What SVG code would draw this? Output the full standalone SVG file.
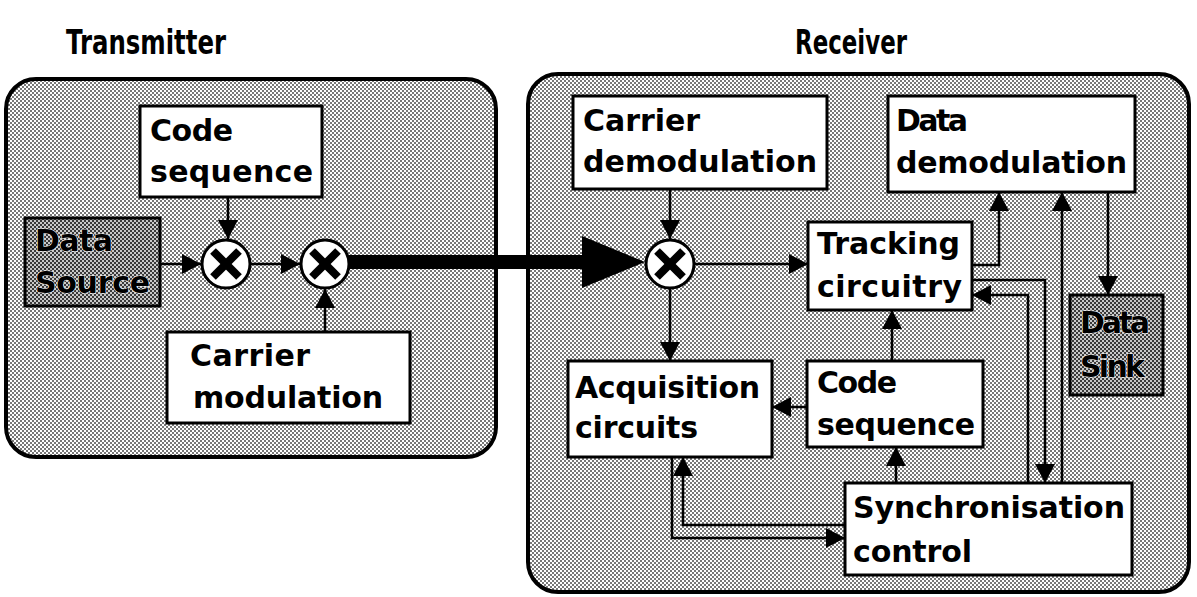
<svg xmlns="http://www.w3.org/2000/svg" width="1197" height="597" viewBox="0 0 1197 597">
  <defs>
    <pattern id="dither" width="4" height="4" patternUnits="userSpaceOnUse">
      <rect width="4" height="4" fill="#ffffff"/>
      <rect width="2" height="2" fill="#787878"/>
      <rect x="2" y="2" width="2" height="2" fill="#787878"/>
    </pattern>
    <pattern id="darkdither" width="4" height="4" patternUnits="userSpaceOnUse">
      <rect width="4" height="4" fill="#c8c8c8"/>
      <rect width="2" height="2" fill="#3a3a3a"/>
      <rect x="2" y="2" width="2" height="2" fill="#3a3a3a"/>
    </pattern>
    <marker id="ah" viewBox="0 0 19 20" refX="19" refY="10" markerWidth="19" markerHeight="20" markerUnits="userSpaceOnUse" orient="auto">
      <path d="M0,0 L19,10 L0,20 z" fill="#000"/>
    </marker>
  </defs>
  <style>
    .panel { fill: url(#dither); stroke: #000; stroke-width: 4; }
    .box { fill: #fff; stroke: #000; stroke-width: 3; }
    .dbox { fill: url(#darkdither); stroke: #000; stroke-width: 3; }
    .lbl { font-family: "DejaVu Sans", "Liberation Sans", sans-serif; font-weight: bold; font-size: 30px; fill: #000; }
    .dlbl { font-family: "DejaVu Sans", "Liberation Sans", sans-serif; font-weight: bold; font-size: 30px; fill: #000; stroke: #fff; stroke-width: 1; paint-order: stroke; }
    .ttl { font-family: "DejaVu Sans", "Liberation Sans", sans-serif; font-weight: bold; font-size: 33px; fill: #000; }
    .mult circle { fill: #fff; stroke: #000; stroke-width: 3; }
    .mult line { stroke: #000; stroke-width: 8; }
    .conn { fill: none; stroke: #000; stroke-width: 2.5; marker-end: url(#ah); }
  </style>

  <rect id="white-bg" x="0" y="0" width="1197" height="597" fill="#fff"/>

  <text id="title-transmitter" class="ttl" x="66" y="54" textLength="160" lengthAdjust="spacingAndGlyphs">Transmitter</text>
  <text id="title-receiver" class="ttl" x="795" y="54" textLength="112" lengthAdjust="spacingAndGlyphs">Receiver</text>

  <rect id="transmitter-panel" class="panel" x="6" y="79" width="490" height="378" rx="30" ry="30"/>
  <rect id="receiver-panel" class="panel" x="528" y="74" width="661" height="518" rx="30" ry="30"/>

  <g id="connectors">
    <path class="conn" d="M228,197 V239"/>
    <path class="conn" d="M160,264 H201"/>
    <path class="conn" d="M251,264 H300"/>
    <path class="conn" d="M325,332 V289"/>
    <path d="M349,262 H586" fill="none" stroke="#000" stroke-width="14"/>
    <polygon points="582,236 645,262 582,288" fill="#000"/>
    <path class="conn" d="M670,189 V239"/>
    <path class="conn" d="M695,264 H808"/>
    <path class="conn" d="M670,289 V361"/>
    <path class="conn" d="M807,407 H772"/>
    <path class="conn" d="M892,361 V310"/>
    <path class="conn" d="M896,483 V447"/>
    <path class="conn" d="M845,525 H683 V457"/>
    <path class="conn" d="M672,457 V538 H845"/>
    <path class="conn" d="M972,265 H999 V192"/>
    <path class="conn" d="M1108,192 V295"/>
    <path class="conn" d="M972,280 H1045 V483"/>
    <path class="conn" d="M1028,483 V295 H972"/>
    <path class="conn" d="M1062,483 V192"/>
  </g>

  <g id="tx-code-sequence">
    <rect class="box" x="140" y="106" width="182" height="91"/>
    <text class="lbl" x="150" y="141" textLength="83" lengthAdjust="spacing">Code</text>
    <text class="lbl" x="150" y="182" textLength="163" lengthAdjust="spacing">sequence</text>
  </g>
  <g id="data-source">
    <rect class="dbox" x="25" y="218" width="135" height="88"/>
    <text class="dlbl" x="35" y="251" textLength="78" lengthAdjust="spacing">Data</text>
    <text class="dlbl" x="35" y="293" textLength="115" lengthAdjust="spacing">Source</text>
  </g>
  <g id="tx-mult-1" class="mult">
    <circle cx="226" cy="264" r="24"/>
    <line x1="213" y1="251" x2="239" y2="277"/>
    <line x1="239" y1="251" x2="213" y2="277"/>
  </g>
  <g id="tx-mult-2" class="mult">
    <circle cx="325" cy="264" r="24"/>
    <line x1="312" y1="251" x2="338" y2="277"/>
    <line x1="338" y1="251" x2="312" y2="277"/>
  </g>
  <g id="carrier-modulation">
    <rect class="box" x="167" y="332" width="243" height="91"/>
    <text class="lbl" x="190" y="366" textLength="120" lengthAdjust="spacing">Carrier</text>
    <text class="lbl" x="193" y="408" textLength="190" lengthAdjust="spacing">modulation</text>
  </g>

  <g id="carrier-demodulation">
    <rect class="box" x="573" y="96" width="254" height="93"/>
    <text class="lbl" x="583" y="131" textLength="117" lengthAdjust="spacing">Carrier</text>
    <text class="lbl" x="583" y="172" textLength="234" lengthAdjust="spacing">demodulation</text>
  </g>
  <g id="data-demodulation">
    <rect class="box" x="888" y="96" width="247" height="96"/>
    <text class="lbl" x="896" y="131" textLength="72" lengthAdjust="spacing">Data</text>
    <text class="lbl" x="896" y="173" textLength="231" lengthAdjust="spacing">demodulation</text>
  </g>
  <g id="rx-mult" class="mult">
    <circle cx="670" cy="264" r="24"/>
    <line x1="657" y1="251" x2="683" y2="277"/>
    <line x1="683" y1="251" x2="657" y2="277"/>
  </g>
  <g id="tracking-circuitry">
    <rect class="box" x="808" y="222" width="164" height="88"/>
    <text class="lbl" x="817" y="254" textLength="143" lengthAdjust="spacing">Tracking</text>
    <text class="lbl" x="817" y="297" textLength="145" lengthAdjust="spacing">circuitry</text>
  </g>
  <g id="data-sink">
    <rect class="dbox" x="1070" y="295" width="93" height="100"/>
    <text class="dlbl" x="1080" y="333" textLength="70" lengthAdjust="spacing">Data</text>
    <text class="dlbl" x="1080" y="377" textLength="65" lengthAdjust="spacing">Sink</text>
  </g>
  <g id="acquisition-circuits">
    <rect class="box" x="568" y="361" width="204" height="96"/>
    <text class="lbl" x="575" y="398" textLength="185" lengthAdjust="spacing">Acquisition</text>
    <text class="lbl" x="575" y="438" textLength="123" lengthAdjust="spacing">circuits</text>
  </g>
  <g id="rx-code-sequence">
    <rect class="box" x="807" y="361" width="176" height="86"/>
    <text class="lbl" x="817" y="393" textLength="80" lengthAdjust="spacing">Code</text>
    <text class="lbl" x="817" y="435" textLength="158" lengthAdjust="spacing">sequence</text>
  </g>
  <g id="synchronisation-control">
    <rect class="box" x="845" y="483" width="287" height="92"/>
    <text class="lbl" x="853" y="518" textLength="272" lengthAdjust="spacing">Synchronisation</text>
    <text class="lbl" x="853" y="562" textLength="119" lengthAdjust="spacing">control</text>
  </g>
</svg>
